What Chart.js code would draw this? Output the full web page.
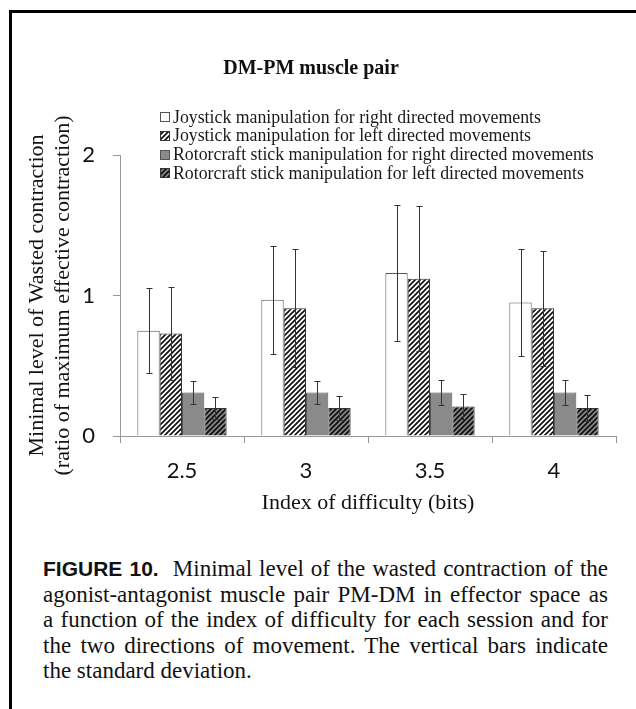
<!DOCTYPE html>
<html><head><meta charset="utf-8">
<script src="https://cdn.jsdelivr.net/npm/chart.js@4/dist/chart.umd.min.js"></script>
<style>
html,body{margin:0;padding:0;background:#fff;}
#wrap{position:relative;width:636px;height:709px;overflow:hidden;background:#fff;}
#frame{position:absolute;left:9px;top:10px;width:700px;height:800px;border-left:3px solid #000;border-top:3px solid #000;}
#chartbox{position:absolute;left:0;top:0;width:636px;height:530px;}
#caption{position:absolute;left:43px;top:556px;width:565px;font-family:"Liberation Serif",serif;font-size:23px;line-height:25.5px;color:#111;}
#caption span{display:block;white-space:nowrap;text-align:justify;text-align-last:justify;}
#caption span.last{text-align-last:left;}
#caption b{font-family:"Liberation Sans",sans-serif;font-weight:bold;font-size:21px;}
</style></head>
<body><div id="wrap"><div id="frame"></div>
<div id="chartbox"><canvas id="c" width="636" height="530"></canvas></div>
<div id="caption"><span><b>FIGURE 10.</b>&nbsp; Minimal level of the wasted contraction of the</span><span>agonist-antagonist muscle pair PM-DM in effector space as</span><span>a function of the index of difficulty for each session and for</span><span>the two directions of movement. The vertical bars indicate</span><span class="last">the standard deviation.</span></div>
</div>
<script>
const categories = ['2.5', '3', '3.5', '4'];
const seriesLabels = [
  'Joystick manipulation for right directed movements',
  'Joystick manipulation for left directed movements',
  'Rotorcraft stick manipulation for right directed movements',
  'Rotorcraft stick manipulation for left directed movements'
];
const joystickRight = [0.75, 0.97, 1.16, 0.95];
const joystickLeft = [0.73, 0.91, 1.12, 0.91];
const rotorRight = [0.31, 0.31, 0.31, 0.31];
const rotorLeft = [0.20, 0.20, 0.21, 0.20];
const joystickRightSD = [0.30, 0.385, 0.485, 0.38];
const joystickLeftSD = [0.33, 0.42, 0.515, 0.41];
const rotorRightSD = [0.08, 0.08, 0.09, 0.09];
const rotorLeftSD = [0.08, 0.085, 0.09, 0.09];
const yTicks = [0, 1, 2];
const chartTitle = 'DM-PM muscle pair';
const yTitle = ['Minimal level of Wasted contraction', '(ratio of maximum effective contraction)'];
const xTitle = 'Index of difficulty (bits)';

const means = [joystickRight, joystickLeft, rotorRight, rotorLeft];
const sds = [joystickRightSD, joystickLeftSD, rotorRightSD, rotorLeftSD];

function hatch(bg, fg, lw) {
  const s = 5;
  const c = document.createElement('canvas');
  c.width = s; c.height = s;
  const g = c.getContext('2d');
  g.fillStyle = bg; g.fillRect(0, 0, s, s);
  g.strokeStyle = fg; g.lineWidth = lw;
  g.beginPath();
  g.moveTo(-1, s + 1); g.lineTo(s + 1, -1);
  g.moveTo(-1, 1); g.lineTo(1, -1);
  g.moveTo(s - 1, s + 1); g.lineTo(s + 1, s - 1);
  g.stroke();
  return g.createPattern(c, 'repeat');
}
const fills = ['#ffffff', hatch('#ffffff', '#111111', 1.7), '#8a8a8a', hatch('#8a8a8a', '#111111', 1.9)];
const borders = ['#555555', '#333333', '#555555', '#333333'];

const errorBars = {
  id: 'errorBars',
  afterDatasetsDraw(chart) {
    const ctx = chart.ctx, y = chart.scales.y;
    ctx.save();
    ctx.strokeStyle = '#333';
    ctx.lineWidth = 1;
    means.forEach((arr, i) => {
      const meta = chart.getDatasetMeta(i);
      meta.data.forEach((bar, j) => {
        const x = Math.round(bar.x) + 0.5;
        const t = Math.round(y.getPixelForValue(arr[j] + sds[i][j])) + 0.5;
        const b = Math.round(y.getPixelForValue(arr[j] - sds[i][j])) + 0.5;
        ctx.beginPath();
        ctx.moveTo(x, t); ctx.lineTo(x, b);
        ctx.moveTo(x - 3, t); ctx.lineTo(x + 3, t);
        ctx.moveTo(x - 3, b); ctx.lineTo(x + 3, b);
        ctx.stroke();
      });
    });
    ctx.restore();
  }
};

const legendAndTitle = {
  id: 'legendAndTitle',
  afterDraw(chart) {
    const ctx = chart.ctx;
    ctx.save();
    ctx.fillStyle = '#111';
    ctx.font = 'bold 20px "Liberation Serif"';
    ctx.textAlign = 'center';
    ctx.textBaseline = 'middle';
    ctx.fillText(chartTitle, 311, 69);
    ctx.font = '17.8px "Liberation Serif"';
    ctx.textAlign = 'left';
    chart.data.datasets.forEach((ds, i) => {
      const cy = 117 + i * 18.8;
      ctx.fillStyle = ds.backgroundColor;
      ctx.fillRect(160, Math.round(cy - 5), 10, 10);
      ctx.strokeStyle = ds.borderColor;
      ctx.lineWidth = 1;
      ctx.strokeRect(160.5, Math.round(cy - 5) + 0.5, 9, 9);
      ctx.fillStyle = '#1a1a1a';
      ctx.fillText(ds.label, 173, cy + 1);
    });
    ctx.restore();
  }
};

new Chart(document.getElementById('c'), {
  type: 'bar',
  data: {
    labels: categories,
    datasets: means.map((arr, i) => ({
      label: seriesLabels[i],
      data: arr,
      backgroundColor: fills[i],
      borderColor: borders[i],
      borderWidth: 1,
      categoryPercentage: 0.72,
      barPercentage: 1.0
    }))
  },
  options: {
    responsive: false,
    animation: false,
    layout: { padding: { left: 0, right: 20, top: 155, bottom: 0 } },
    plugins: { legend: { display: false }, title: { display: false }, tooltip: { enabled: false } },
    scales: {
      x: {
        afterFit(s) { s.height = 94; },
        grid: { display: true, drawOnChartArea: false, drawTicks: true, tickLength: 7, color: '#999', offset: true },
        border: { display: true, color: '#999', width: 1 },
        ticks: { font: { family: 'Lato', size: 22 }, color: '#111', padding: 15 },
        title: { display: true, text: xTitle, font: { family: 'Liberation Serif', size: 22 }, color: '#111', padding: { top: 0, bottom: 14 } }
      },
      y: {
        min: 0, max: 2,
        afterFit(s) { s.width = 120; },
        afterBuildTicks(s) { s.ticks = yTicks.map(v => ({ value: v })); },
        grid: { display: true, drawOnChartArea: false, drawTicks: true, tickLength: 7, color: '#999' },
        border: { display: true, color: '#999', width: 1 },
        ticks: { font: { family: 'Lato', size: 22 }, color: '#111', padding: 18 },
        title: { display: true, text: yTitle, font: { family: 'Liberation Serif', size: 22 }, color: '#111', padding: { top: 24, bottom: 0 } }
      }
    }
  },
  plugins: [errorBars, legendAndTitle]
});
</script>
</body></html>
